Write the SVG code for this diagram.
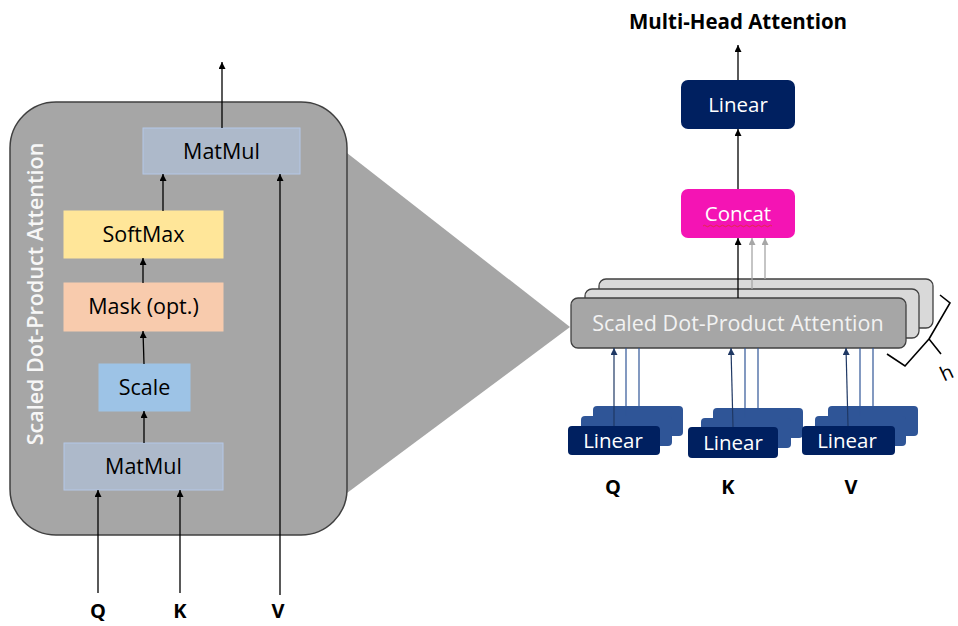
<svg xmlns="http://www.w3.org/2000/svg" width="958" height="626" viewBox="0 0 958 626">
  <defs>
    <marker id="arr" markerUnits="userSpaceOnUse" markerWidth="8" markerHeight="8" refX="7" refY="3.5" orient="auto">
      <path d="M0,0 L7,3.5 L0,7 z" fill="#000"/>
    </marker>
    <marker id="arrGrey" markerUnits="userSpaceOnUse" markerWidth="8" markerHeight="8" refX="7" refY="3.5" orient="auto">
      <path d="M0,0 L7,3.5 L0,7 z" fill="#a6a6a6"/>
    </marker>
    <marker id="arrBlue" markerUnits="userSpaceOnUse" markerWidth="8" markerHeight="8" refX="7" refY="3.5" orient="auto">
      <path d="M0,0 L7,3.5 L0,7 z" fill="#1f3864"/>
    </marker>
  </defs>
  <style>
    text { font-family: "Open Sans", "Noto Sans", "DejaVu Sans", sans-serif; }
    .lbl { font-size: 21.5px; fill: #000; text-anchor: middle; }
    .io { font-size: 20px; font-weight: 700; fill: #000; text-anchor: middle; }
    .wl { font-size: 20.5px; fill: #fff; text-anchor: middle; }
    .matmul { fill: #adb9ca; stroke: #b4c7e7; stroke-width: 1; }
    .ln { stroke: #000; stroke-width: 1.3; fill: none; marker-end: url(#arr); }
    .lng { stroke: #a6a6a6; stroke-width: 1.3; fill: none; marker-end: url(#arrGrey); }
    .lb { stroke: #2f5597; stroke-width: 1.2; fill: none; }
    .lba { stroke: #1f3864; stroke-width: 1.2; fill: none; marker-end: url(#arrBlue); }
    .sdpa { stroke: #404040; stroke-width: 1.3; }
    .linF { fill: #002060; }
    .linB { fill: #2f5597; }
  </style>

  <rect width="958" height="626" fill="#fff"/>

  <!-- zoom fan joining the expanded block to the attention box -->
  <polygon points="347,153 570,327 347,493" fill="#a6a6a6"/>

  <!-- expanded scaled dot-product attention block -->
  <g id="sdpa-detail">
    <rect x="10" y="102" width="337" height="433" rx="46" ry="46" fill="#a6a6a6" stroke="#404040" stroke-width="1.5"/>
    <text x="43" y="294" transform="rotate(-90 43 294)" font-size="21.5" font-weight="600" fill="#f7f7f7" text-anchor="middle">Scaled Dot-Product Attention</text>
  </g>

  <g id="matmul-top">
    <rect class="matmul" x="143" y="128" width="157" height="46"/>
    <text class="lbl" x="221.5" y="159">MatMul</text>
  </g>
  <g id="softmax">
    <rect x="64" y="211" width="159" height="47" fill="#ffe699" stroke="#ffe699"/>
    <text class="lbl" x="143.5" y="242">SoftMax</text>
  </g>
  <g id="mask">
    <rect x="64" y="283" width="159" height="48" fill="#f8cbad" stroke="#f8cbad"/>
    <text class="lbl" x="143.5" y="314">Mask (opt.)</text>
  </g>
  <g id="scale">
    <rect x="99" y="364" width="91" height="47" fill="#9dc3e6" stroke="#9dc3e6"/>
    <text class="lbl" x="144.5" y="395">Scale</text>
  </g>
  <g id="matmul-bottom">
    <rect class="matmul" x="64" y="443" width="159" height="47"/>
    <text class="lbl" x="143.5" y="474">MatMul</text>
  </g>

  <g id="inputs-left">
    <text class="io" x="98" y="618">Q</text>
    <text class="io" x="180" y="618">K</text>
    <text class="io" x="278" y="618">V</text>
  </g>

  <!-- multi-head side -->
  <text id="title" x="738" y="29" font-size="20.5" font-weight="700" fill="#000" text-anchor="middle">Multi-Head Attention</text>

  <g id="linear-out">
    <rect x="681" y="80" width="114" height="49" rx="7" fill="#002060"/>
    <text class="wl" x="738" y="112">Linear</text>
  </g>
  <g id="concat">
    <rect x="681" y="189" width="114" height="49" rx="7" fill="#f414b4"/>
    <text class="wl" x="738" y="221">Concat</text>
    <path d="M703,226 q1.5,-1.5 3,0 t3,0 t3,0 t3,0 t3,0 t3,0 t3,0 t3,0 t3,0 t3,0 t3,0 t3,0 t3,0 t3,0 t3,0 t3,0 t3,0 t3,0 t3,0 t3,0 t3,0 t3,0 t3,0" fill="none" stroke="#e03030" stroke-width="0.8"/>
  </g>

  <g id="attention-heads">
    <rect class="sdpa" x="599" y="279" width="334" height="49" rx="7" fill="#d9d9d9"/>
    <rect class="sdpa" x="585" y="289" width="334" height="49" rx="7" fill="#d9d9d9"/>
    <rect class="sdpa" x="571" y="298" width="335" height="50" rx="7" fill="#a6a6a6"/>
    <text x="738" y="331" font-size="21.5" fill="#f2f2f2" text-anchor="middle">Scaled Dot-Product Attention</text>
  </g>

  <g id="head-count">
    <path d="M940,295 L950,303 L929,339 L941,354 M929,339 L905,366 L887,354" fill="none" stroke="#000" stroke-width="1.6"/>
    <text x="940" y="380" font-size="20" fill="#000" transform="rotate(-25 946 372)">h</text>
  </g>

  <g id="linear-q">
    <rect class="linB" x="593" y="406" width="90" height="30" rx="4"/>
    <rect class="linB" x="581" y="416" width="91" height="30" rx="4"/>
    <rect class="linF" x="568" y="426" width="92" height="29" rx="4"/>
    <text class="wl" x="613" y="448">Linear</text>
  </g>
  <g id="linear-k">
    <rect class="linB" x="713" y="408" width="90" height="30" rx="4"/>
    <rect class="linB" x="701" y="418" width="90" height="30" rx="4"/>
    <rect class="linF" x="688" y="427" width="90" height="31" rx="4"/>
    <text class="wl" x="733" y="450">Linear</text>
  </g>
  <g id="linear-v">
    <rect class="linB" x="828" y="406" width="90" height="30" rx="4"/>
    <rect class="linB" x="815" y="416" width="91" height="30" rx="4"/>
    <rect class="linF" x="802" y="426" width="93" height="29" rx="4"/>
    <text class="wl" x="847" y="448">Linear</text>
  </g>

  <g id="inputs-right">
    <text class="io" x="613" y="494">Q</text>
    <text class="io" x="728" y="494">K</text>
    <text class="io" x="851" y="494">V</text>
  </g>

  <!-- connectors -->
  <g id="connectors">
    <line class="ln" x1="222" y1="128" x2="222" y2="62"/>
    <line class="ln" x1="163" y1="211" x2="163" y2="174"/>
    <line class="ln" x1="143" y1="283" x2="143" y2="258"/>
    <line class="ln" x1="144" y1="364" x2="143" y2="331"/>
    <line class="ln" x1="144" y1="443" x2="144" y2="411"/>
    <line class="ln" x1="98" y1="593" x2="98" y2="490"/>
    <line class="ln" x1="180" y1="593" x2="180" y2="490"/>
    <line class="ln" x1="280" y1="595" x2="280" y2="174"/>

    <line class="ln" x1="738" y1="80" x2="738" y2="45"/>
    <line class="ln" x1="738" y1="189" x2="738" y2="129"/>
    <line class="ln" x1="738" y1="298" x2="738" y2="238"/>
    <line class="lng" x1="752" y1="289" x2="752" y2="238"/>
    <line class="lng" x1="765" y1="279" x2="765" y2="238"/>

    <line class="lba" x1="614" y1="426" x2="614" y2="348"/>
    <line class="lb" x1="626" y1="416" x2="626" y2="348"/>
    <line class="lb" x1="639" y1="406" x2="639" y2="348"/>
    <line class="lba" x1="733" y1="427" x2="731" y2="348"/>
    <line class="lb" x1="745" y1="418" x2="745" y2="348"/>
    <line class="lb" x1="758" y1="408" x2="758" y2="348"/>
    <line class="lba" x1="848" y1="426" x2="846" y2="348"/>
    <line class="lb" x1="860" y1="416" x2="860" y2="348"/>
    <line class="lb" x1="873" y1="406" x2="873" y2="348"/>
  </g>
</svg>
